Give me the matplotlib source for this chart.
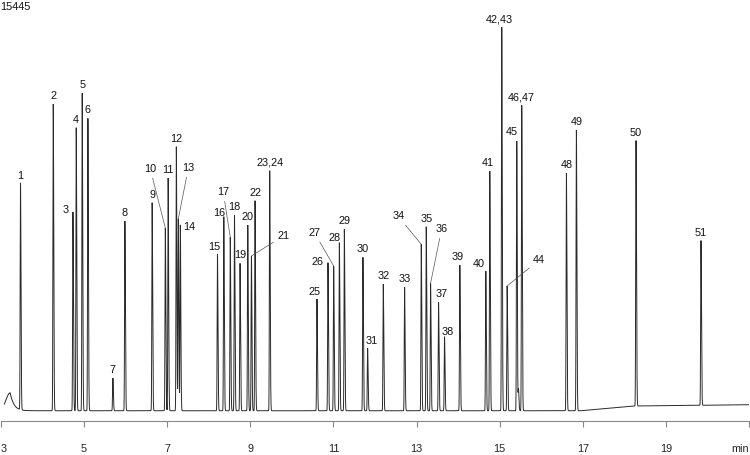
import numpy as np
import matplotlib
matplotlib.use("Agg")
import matplotlib.pyplot as plt

# ---------------- data ----------------
peak_labels = ["1", "2", "3", "4", "5", "6", "7", "8", "9", "10", "11", "12", "13", "14",
               "15", "16", "17", "18", "19", "20", "21", "22", "23,24", "25", "26", "27",
               "28", "29", "30", "31", "32", "33", "34", "35", "36", "37", "38", "39", "40",
               "41", "42,43", "44", "45", "", "46,47", "48", "49", "50", "51"]
peak_times = [3.469, 4.257, 4.731, 4.810, 4.954, 5.091, 5.692, 5.981, 6.637, 6.954, 7.022,
              7.219, 7.267, 7.315, 8.209, 8.361, 8.517, 8.618, 8.752, 8.938, 9.026, 9.113,
              9.466, 10.603, 10.868, 11.005, 11.142, 11.262, 11.709, 11.822, 12.199, 12.712,
              13.113, 13.233, 13.337, 13.529, 13.673, 14.041, 14.666, 14.762, 15.050, 15.180,
              15.411, 15.452, 15.531, 16.606, 16.846, 18.281, 19.844]
peak_heights = [8850, 11972, 7757, 11047, 12390, 11413, 1278, 7406, 8120, 7133, 9084,
                10306, 7484, 7250, 6118, 7574, 6770, 7640, 5755, 7250, 6040, 8198,
                9369, 4362, 5778, 5650, 6559, 7082, 5989, 2437, 4935, 4818,
                6496, 7183, 4974, 4233, 2890, 5689, 5454, 9357, 14966, 4869,
                10528, 849, 11921, 9267, 10958, 10360, 6430]

# solvent hump near the start
solvent_time = 3.22
solvent_height = 700

# baseline drift (time, counts)
drift_times = [3.0, 16.95, 18.2, 19.8, 21.0]
drift_levels = [0, 0, 185, 212, 236]

y_max_label = "15445"

# ---------------- layout (label offsets in pixels, relative to peak top) ----
custom_offsets = {
    "3": (-7, 2), "10": (-15, 59), "13": (10, 51), "14": (9, -2), "15": (-3, 7),
    "16": (-5, 4), "17": (-7, 45), "21": (32, 20), "25": (-2, 7), "26": (-10, 1),
    "27": (-19, 33), "28": (-5, 5), "31": (4, 7), "34": (-23, 28), "36": (11, 54),
    "37": (3, 8), "38": (3, 5), "39": (-2, 8), "40": (-7, 7), "41": (-2, 8),
    "42,43": (-2, 8), "45": (-5, 9), "44": (32, 26),
}
leaders = {"10", "13", "17", "21", "27", "34", "36", "44"}

FONT = "Liberation Sans"
FS = 7.8

fig = plt.figure(figsize=(7.5, 4.55), dpi=100)
ax = fig.add_axes([1 / 750, 1 - 421 / 455, 748 / 750, 406 / 455])

t = np.arange(3.08, 21.0, 0.0005)
sig = np.interp(t, drift_times, drift_levels).astype(float)
sigma = 0.0075
for pt, ph in zip(peak_times, peak_heights):
    d = t - pt
    w = np.where(d < 0, sigma, sigma * 1.6)
    sig += ph * np.exp(-0.5 * (d / w) ** 2)
# solvent hump: gaussian rise + exponential tail
ds = t - solvent_time
hump = np.where(ds < 0, np.exp(-0.5 * (ds / 0.1) ** 2), np.exp(-ds / 0.09))
sig += solvent_height * hump

ax.plot(t, sig, color="#2a2a2a", lw=0.7, solid_joinstyle="miter")

ax.set_xlim(3, 21)
ax.set_ylim(-400, 15445)

for lab, pt, ph in zip(peak_labels, peak_times, peak_heights):
    if not lab:
        continue
    top = ph + np.interp(pt, drift_times, drift_levels)
    dx, dy = custom_offsets.get(lab, (0, 8))
    if lab in leaders:
        ax.annotate(lab, xy=(pt, top), xytext=(dx, dy), textcoords="offset pixels",
                    ha="center", va="center", fontsize=FS, family=FONT, color="#111111",
                    arrowprops=dict(arrowstyle="-", color="#555555", lw=0.5,
                                    shrinkA=1, shrinkB=0))
    else:
        ax.annotate(lab, xy=(pt, top), xytext=(dx, dy), textcoords="offset pixels",
                    ha="center", va="center", fontsize=FS, family=FONT, color="#111111")

for s in ["top", "left", "right"]:
    ax.spines[s].set_visible(False)
ax.spines["bottom"].set_color("#888888")
ax.spines["bottom"].set_linewidth(0.8)
ax.set_yticks([])
ticks = [3, 5, 7, 9, 11, 13, 15, 17, 19, 21]
ax.set_xticks(ticks)
ax.set_xticklabels([str(v) for v in ticks[:-1]] + ["min"], fontsize=FS, family=FONT,
                   color="#222222")
ax.tick_params(axis="x", direction="out", length=4.5, width=0.8, color="#888888", pad=12)
tl = ax.get_xticklabels()
tl[0].set_ha("left")
tl[-1].set_ha("right")

fig.text(0.0, 1 - 7 / 455, y_max_label, ha="left", va="center", fontsize=FS, family=FONT,
         color="#111111")

fig.savefig("out.png", dpi=100)
